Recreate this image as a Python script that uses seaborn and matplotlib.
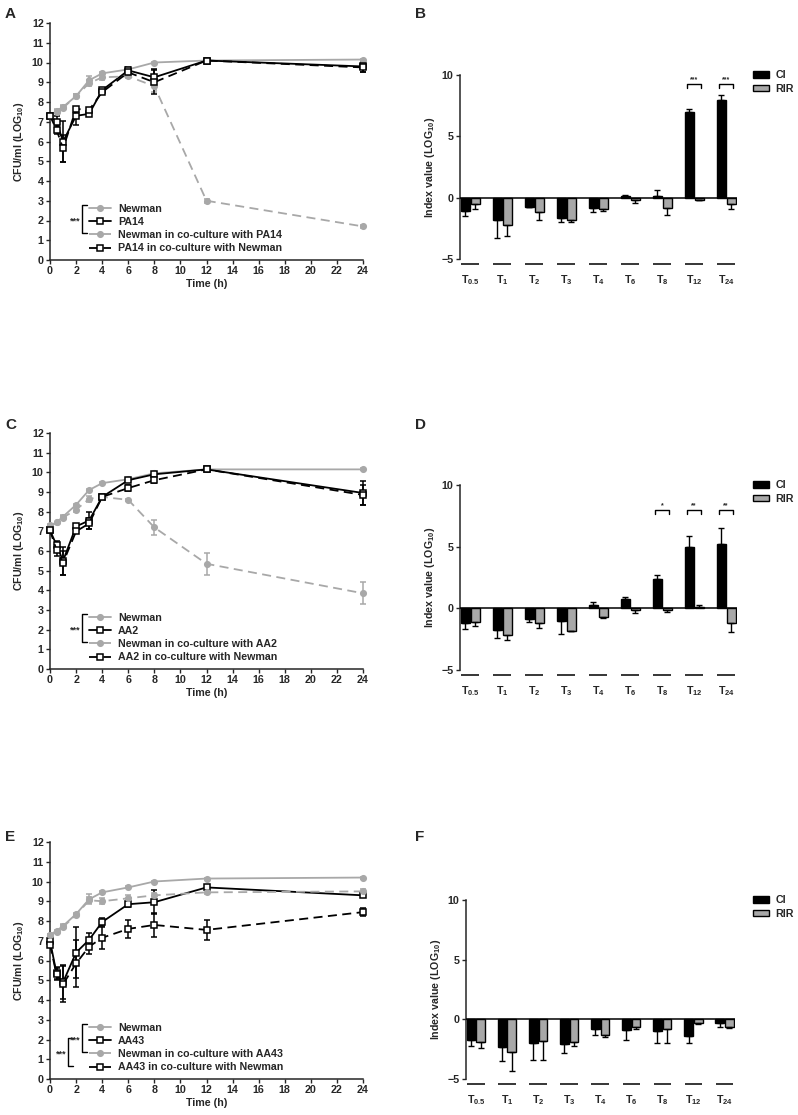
import numpy as np
import pandas as pd
import matplotlib
matplotlib.use("Agg")
import matplotlib.pyplot as plt
import seaborn as sns

sns.set_style("ticks")
plt.rcParams['font.family'] = ['Liberation Sans', 'DejaVu Sans']
plt.rcParams['font.weight'] = 'bold'
plt.rcParams['axes.labelweight'] = 'bold'
plt.rcParams['mathtext.fontset'] = 'custom'
plt.rcParams['mathtext.rm'] = 'Liberation Sans:bold'
plt.rcParams['mathtext.it'] = 'Liberation Sans:bold'
plt.rcParams['mathtext.bf'] = 'Liberation Sans:bold'

# ---- growth curves (time in h, CFU/ml log10) ----
times = [0, 0.5, 1, 2, 3, 4, 6, 8, 12, 24]

newman_A = [7.3, 7.55, 7.75, 8.3, 9.1, 9.45, 9.65, 10.0, 10.1, 10.15]
newman_A_err = [0.05, 0.08, 0.1, 0.08, 0.22, 0.08, 0.08, 0.05, 0.05, 0.05]
pa14 = [7.3, 7.0, 6.0, 7.3, 7.4, 8.6, 9.6, 9.25, 10.1, 9.8]
pa14_err = [0.1, 0.3, 1.05, 0.45, 0.1, 0.1, 0.15, 0.4, 0.08, 0.3]
newman_co_A = [7.3, 7.5, 7.7, 8.3, 8.95, 9.25, 9.3, 8.8, 3.0, 1.7]
newman_co_A_err = [0.05, 0.08, 0.1, 0.08, 0.15, 0.15, 0.1, 0.3, 0.1, 0.08]
pa14_co = [7.3, 6.6, 5.65, 7.65, 7.6, 8.5, 9.5, 9.0, 10.1, 9.75]
pa14_co_err = [0.1, 0.2, 0.7, 0.1, 0.1, 0.1, 0.1, 0.6, 0.08, 0.25]

newman_C = [7.3, 7.45, 7.75, 8.35, 9.1, 9.45, 9.65, 9.95, 10.15, 10.15]
newman_C_err = [0.05, 0.05, 0.08, 0.05, 0.05, 0.05, 0.05, 0.05, 0.05, 0.05]
aa2 = [7.05, 6.3, 5.5, 7.25, 7.55, 8.75, 9.6, 9.9, 10.15, 8.95]
aa2_err = [0.1, 0.2, 0.7, 0.1, 0.45, 0.1, 0.1, 0.1, 0.05, 0.6]
newman_co_C = [7.25, 7.45, 7.7, 8.1, 8.65, 8.75, 8.6, 7.2, 5.35, 3.85]
newman_co_C_err = [0.05, 0.05, 0.08, 0.1, 0.15, 0.05, 0.05, 0.4, 0.55, 0.55]
aa2_co = [7.05, 6.05, 5.4, 7.0, 7.4, 8.75, 9.2, 9.6, 10.15, 8.85]
aa2_co_err = [0.1, 0.3, 0.6, 0.1, 0.3, 0.05, 0.15, 0.15, 0.05, 0.5]

newman_E = [7.3, 7.5, 7.75, 8.35, 9.1, 9.45, 9.7, 10.0, 10.15, 10.2]
newman_E_err = [0.05, 0.05, 0.1, 0.05, 0.25, 0.05, 0.05, 0.05, 0.05, 0.05]
aa43 = [7.0, 5.35, 4.9, 6.4, 7.05, 7.95, 8.85, 8.95, 9.7, 9.3]
aa43_err = [0.1, 0.3, 0.85, 1.3, 0.35, 0.2, 0.15, 0.6, 0.05, 0.1]
newman_co_E = [7.3, 7.45, 7.7, 8.3, 9.05, 9.0, 9.15, 9.3, 9.45, 9.5]
newman_co_E_err = [0.05, 0.05, 0.1, 0.05, 0.15, 0.15, 0.15, 0.1, 0.1, 0.1]
aa43_co = [6.8, 5.3, 4.8, 5.85, 6.7, 7.15, 7.6, 7.8, 7.55, 8.45]
aa43_co_err = [0.1, 0.3, 0.9, 1.2, 0.35, 0.55, 0.45, 0.6, 0.5, 0.2]

# ---- index values (CI / RIR) ----
time_labels = ["T$_{0.5}$", "T$_{1}$", "T$_{2}$", "T$_{3}$", "T$_{4}$",
               "T$_{6}$", "T$_{8}$", "T$_{12}$", "T$_{24}$"]

B_ci = [-1.1, -1.8, -0.75, -1.65, -0.85, 0.15, 0.1, 7.0, 8.0]
B_ci_err = [0.4, 1.5, 0.05, 0.35, 0.35, 0.05, 0.5, 0.2, 0.4]
B_rir = [-0.55, -2.2, -1.2, -1.8, -0.95, -0.2, -0.85, -0.15, -0.5]
B_rir_err = [0.35, 0.9, 0.6, 0.2, 0.15, 0.2, 0.55, 0.05, 0.4]

D_ci = [-1.2, -1.75, -0.85, -1.0, 0.3, 0.75, 2.4, 5.0, 5.25]
D_ci_err = [0.5, 0.65, 0.25, 1.1, 0.2, 0.2, 0.3, 0.9, 1.3]
D_rir = [-1.1, -2.2, -1.2, -1.8, -0.7, -0.1, -0.1, 0.1, -1.2]
D_rir_err = [0.3, 0.4, 0.4, 0.05, 0.05, 0.3, 0.2, 0.15, 0.75]

F_ci = [-1.7, -2.3, -2.0, -2.05, -0.85, -0.9, -0.95, -1.4, -0.3]
F_ci_err = [0.55, 1.2, 1.4, 0.75, 0.45, 0.8, 1.05, 0.55, 0.35]
F_rir = [-1.9, -2.75, -1.8, -1.9, -1.35, -0.65, -0.85, -0.3, -0.65]
F_rir_err = [0.5, 1.55, 1.6, 0.35, 0.15, 0.2, 1.1, 0.05, 0.05]

sig_B = {7: "***", 8: "***"}
sig_D = {6: "*", 7: "**", 8: "**"}

GREY = "#a8a8a8"
W, H = 798, 1115
FS = 7.7

fig = plt.figure(figsize=(W / 100, H / 100), dpi=100)


def px_axes(left, top, right, bottom):
    return fig.add_axes([left / W, 1 - bottom / H, (right - left) / W, (bottom - top) / H])


def line_panel(ax, series, brackets):
    styles = [
        dict(color=GREY, linestyle="-", marker="o", markerfacecolor=GREY, markersize=4),
        dict(color="black", linestyle="-", marker="s", markerfacecolor="white", markersize=5),
        dict(color=GREY, linestyle=(0, (5, 3)), marker="o", markerfacecolor=GREY, markersize=4),
        dict(color="black", linestyle=(0, (5, 3)), marker="s", markerfacecolor="white", markersize=5),
    ]
    for (vals, errs, label), st in zip(series, styles):
        ax.errorbar(times, vals, yerr=errs, fmt="none", ecolor=st["color"],
                    elinewidth=1.1, capsize=2.5, capthick=1.1, clip_on=False, zorder=2)
        sns.lineplot(x=times, y=vals, ax=ax, color=st["color"], linestyle=st["linestyle"],
                     marker=st["marker"], markersize=st["markersize"],
                     markerfacecolor=st["markerfacecolor"], markeredgecolor=st["color"],
                     markeredgewidth=1.1, linewidth=1.3, label=label, clip_on=False, zorder=3)
    ax.set_xlim(0, 24)
    ax.set_ylim(0, 12)
    ax.set_xticks(range(0, 25, 2))
    ax.set_yticks(range(0, 13))
    ax.set_xlabel("Time (h)", fontsize=FS, labelpad=2)
    ax.set_ylabel("CFU/ml (LOG$_{10}$)", fontsize=FS, labelpad=4)
    ax.tick_params(labelsize=FS, width=1, length=3, pad=1.5)
    for s in ["top", "right"]:
        ax.spines[s].set_visible(False)
    for s in ["left", "bottom"]:
        ax.spines[s].set_linewidth(1.1)
    ax.legend(loc="lower left", bbox_to_anchor=(0.125, 0.028), frameon=False,
              fontsize=FS, handlelength=2.0, handletextpad=0.7, labelspacing=0.3,
              borderpad=0, borderaxespad=0)
    rows = [0.232, 0.172, 0.113, 0.055]
    for x, r0, r1 in brackets:
        y0, y1 = rows[r0], rows[r1]
        ax.plot([x + 0.016, x, x, x + 0.016], [y0, y0, y1, y1], color="black",
                lw=1, transform=ax.transAxes, clip_on=False)
        ax.text(x - 0.006, (y0 + y1) / 2 - 0.008, "***", transform=ax.transAxes,
                ha="right", va="center", fontsize=6.5)


def bar_panel(ax, ci, ci_err, rir, rir_err, sig):
    df = pd.DataFrame({
        "time": time_labels * 2,
        "index": ["CI"] * len(ci) + ["RIR"] * len(rir),
        "value": ci + rir,
    })
    sns.barplot(data=df, x="time", y="value", hue="index", order=time_labels,
                hue_order=["CI", "RIR"], palette={"CI": "black", "RIR": GREY},
                edgecolor="black", linewidth=1, width=0.62, gap=0.1,
                errorbar=None, ax=ax, zorder=2)
    for cont, vals, errs in zip(ax.containers, [ci, rir], [ci_err, rir_err]):
        for bar, v, e in zip(cont, vals, errs):
            x = bar.get_x() + bar.get_width() / 2
            yerr = [[e], [0]] if v < 0 else [[0], [e]]
            ax.errorbar([x], [v], yerr=yerr, fmt="none", ecolor="black",
                        elinewidth=1, capsize=2.5, capthick=1, zorder=3)
    for i, s in sig.items():
        y = 8.0 if len(s) < 3 else 9.3
        ax.plot([i - 0.22, i - 0.22, i + 0.22, i + 0.22], [y - 0.35, y, y, y - 0.35],
                color="black", lw=1)
        ax.text(i, y + 0.05, s, ha="center", va="bottom", fontsize=5)
    ax.axhline(0, color="black", lw=1.1, zorder=4)
    ax.hlines([-5.4] * 9, [i - 0.28 for i in range(9)], [i + 0.28 for i in range(9)],
              color="black", lw=1.1, clip_on=False)
    ax.set_xlim(-0.32, 8.34)
    ax.set_ylim(-5, 10)
    ax.set_yticks([-5, 0, 5, 10])
    ax.set_xticks(range(9))
    ax.set_xticklabels(time_labels)
    ax.set_xlabel("")
    ax.set_ylabel("Index value (LOG$_{10}$)", fontsize=FS, labelpad=3)
    ax.tick_params(axis="x", length=0, pad=10, labelsize=FS)
    ax.tick_params(axis="y", labelsize=FS, width=1, length=3, pad=1.5)
    for s in ["top", "right", "bottom"]:
        ax.spines[s].set_visible(False)
    ax.spines["left"].set_linewidth(1.1)
    bb = ax.get_position()
    x_anchor = (753 / W - bb.x0) / bb.width
    y_anchor = 1 + 5 / (bb.height * H)
    sns.move_legend(ax, "upper left", bbox_to_anchor=(x_anchor, y_anchor), frameon=False,
                    title=None, fontsize=FS, handlelength=1.5, handleheight=0.6,
                    labelspacing=0.35, handletextpad=0.6, borderpad=0, borderaxespad=0)


axA = px_axes(50, 23, 363, 260)
line_panel(axA, [(newman_A, newman_A_err, "Newman"), (pa14, pa14_err, "PA14"),
                 (newman_co_A, newman_co_A_err, "Newman in co-culture with PA14"),
                 (pa14_co, pa14_co_err, "PA14 in co-culture with Newman")],
           [(0.102, 0, 2)])

axC = px_axes(50, 433, 363, 669)
line_panel(axC, [(newman_C, newman_C_err, "Newman"), (aa2, aa2_err, "AA2"),
                 (newman_co_C, newman_co_C_err, "Newman in co-culture with AA2"),
                 (aa2_co, aa2_co_err, "AA2 in co-culture with Newman")],
           [(0.102, 0, 2)])

axE = px_axes(50, 842, 363, 1079)
line_panel(axE, [(newman_E, newman_E_err, "Newman"), (aa43, aa43_err, "AA43"),
                 (newman_co_E, newman_co_E_err, "Newman in co-culture with AA43"),
                 (aa43_co, aa43_co_err, "AA43 in co-culture with Newman")],
           [(0.102, 0, 2), (0.057, 1, 3)])

axB = px_axes(460, 75, 737, 259)
bar_panel(axB, B_ci, B_ci_err, B_rir, B_rir_err, sig_B)

axD = px_axes(460, 485, 737, 670)
bar_panel(axD, D_ci, D_ci_err, D_rir, D_rir_err, sig_D)

axF = px_axes(466, 900, 735, 1079)
bar_panel(axF, F_ci, F_ci_err, F_rir, F_rir_err, {})

for lab, x, y in [("A", 5, 7), ("B", 415, 7), ("C", 5, 418), ("D", 415, 418),
                  ("E", 5, 830), ("F", 415, 830)]:
    fig.text(x / W, 1 - y / H, lab, fontsize=11, fontweight="bold", va="top", ha="left")

fig.savefig("out.png", dpi=100)
